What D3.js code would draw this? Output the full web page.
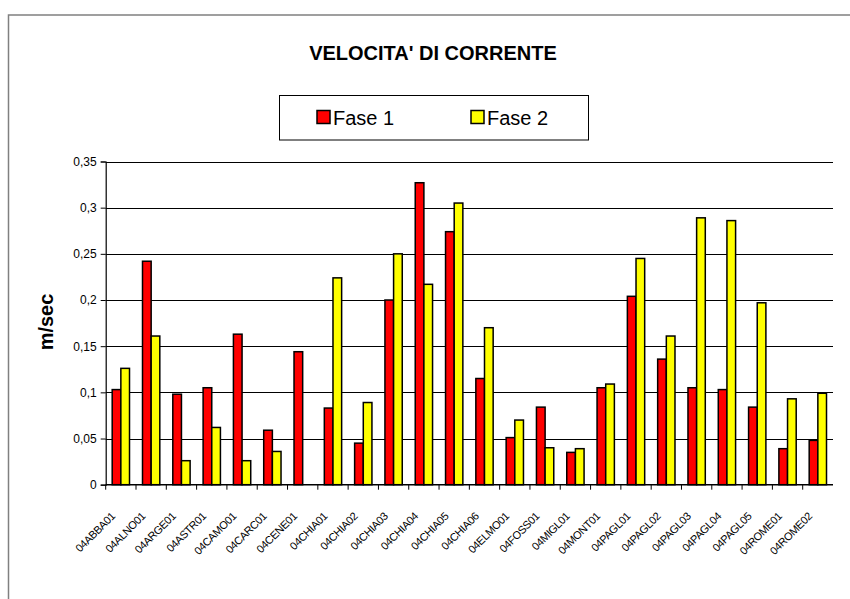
<!DOCTYPE html>
<html>
<head>
<meta charset="utf-8">
<script src="https://cdn.jsdelivr.net/npm/d3@7"></script>
<style>
  body { margin: 0; background: #fff; }
  svg { display: block; font-family: "Liberation Sans", Arial, sans-serif; }
</style>
</head>
<body>
<svg id="chart" width="850" height="599"></svg>
<script>
// stations
const categories = ["04ABBA01", "04ALNO01", "04ARGE01", "04ASTR01", "04CAMO01", "04CARC01",
  "04CENE01", "04CHIA01", "04CHIA02", "04CHIA03", "04CHIA04", "04CHIA05", "04CHIA06",
  "04ELMO01", "04FOSS01", "04MIGL01", "04MONT01", "04PAGL01", "04PAGL02", "04PAGL03",
  "04PAGL04", "04PAGL05", "04ROME01", "04ROME02"];

const fase1 = [0.103, 0.242, 0.098, 0.105, 0.163, 0.059, 0.144, 0.083, 0.045, 0.200, 0.327, 0.274,
  0.115, 0.051, 0.084, 0.035, 0.105, 0.204, 0.136, 0.105, 0.103, 0.084, 0.039, 0.048];
const fase2 = [0.126, 0.161, 0.026, 0.062, 0.026, 0.036, 0, 0.224, 0.089, 0.250, 0.217, 0.305,
  0.170, 0.070, 0.040, 0.039, 0.109, 0.245, 0.161, 0.289, 0.286, 0.197, 0.093, 0.099];

const seriesNames = ["Fase 1", "Fase 2"];
const seriesColors = ["#ff0000", "#ffff00"];
const yTicks = [0, 0.05, 0.1, 0.15, 0.2, 0.25, 0.3, 0.35];

const svg = d3.select("#chart");

// outer chart frame (clipped at right/bottom like the screenshot)
svg.append("rect")
  .attr("x", 8.5).attr("y", 15)
  .attr("width", 900).attr("height", 700)
  .attr("fill", "none")
  .attr("stroke", "#808080")
  .attr("stroke-width", 1.5);

const x = d3.scaleBand()
  .domain(categories)
  .range([105.7, 833])
  .paddingInner(0).paddingOuter(0);

const x1 = d3.scaleBand()
  .domain(seriesNames)
  .range([0, x.bandwidth()])
  .paddingInner(0)
  .paddingOuter(0.75);

const y = d3.scaleLinear()
  .domain([0, 0.35])
  .range([484.7, 161.5]);

const fmt = d => String(d).replace(".", ",");

// gridlines
svg.append("g")
  .selectAll("line")
  .data(yTicks.filter(d => d > 0))
  .join("line")
  .attr("x1", 105.7).attr("x2", 833)
  .attr("y1", d => Math.round(y(d)) + 0.5)
  .attr("y2", d => Math.round(y(d)) + 0.5)
  .attr("stroke", "#000")
  .attr("stroke-width", 1);

// bars
const rows = categories.map((c, i) => ({ cat: c, vals: [fase1[i], fase2[i]] }));

svg.append("g")
  .selectAll("g")
  .data(rows)
  .join("g")
  .attr("transform", d => `translate(${x(d.cat)},0)`)
  .selectAll("rect")
  .data(d => d.vals.map((v, j) => ({ name: seriesNames[j], v: v, j: j })).filter(e => e.v > 0))
  .join("rect")
  .attr("x", d => x1(d.name))
  .attr("y", d => y(d.v))
  .attr("width", x1.bandwidth())
  .attr("height", d => y(0) - y(d.v))
  .attr("fill", d => seriesColors[d.j])
  .attr("stroke", "#000")
  .attr("stroke-width", 1.5);

// y axis
const yAxis = d3.axisLeft(y)
  .tickValues(yTicks)
  .tickFormat(fmt)
  .tickSize(5)
  .tickPadding(4);

const gy = svg.append("g")
  .attr("transform", "translate(105.7,0)")
  .call(yAxis);
gy.select(".domain").attr("stroke", "#000").attr("stroke-width", 1.2);
gy.selectAll(".tick line").attr("stroke", "#000");
gy.selectAll(".tick text")
  .attr("font-family", "Liberation Sans, Arial, sans-serif")
  .attr("font-size", 12)
  .attr("fill", "#000");

// x axis: ticks at band boundaries
svg.append("line")
  .attr("x1", 105.7).attr("x2", 833)
  .attr("y1", y(0)).attr("y2", y(0))
  .attr("stroke", "#000").attr("stroke-width", 1.5);

svg.append("g")
  .selectAll("line")
  .data(categories)
  .join("line")
  .attr("x1", d => x(d)).attr("x2", d => x(d))
  .attr("y1", y(0)).attr("y2", y(0) + 5)
  .attr("stroke", "#000");

svg.append("g")
  .selectAll("text")
  .data(categories)
  .join("text")
  .attr("transform", d => `translate(${x(d) + x.bandwidth() / 2 - 5},517) rotate(-45)`)
  .attr("text-anchor", "end")
  .attr("font-size", 11)
  .attr("letter-spacing", -0.4)
  .attr("fill", "#000")
  .text(d => d);

// title
svg.append("text")
  .attr("x", 433).attr("y", 60)
  .attr("text-anchor", "middle")
  .attr("font-size", 20)
  .attr("font-weight", "bold")
  .text("VELOCITA' DI CORRENTE");

// y label
svg.append("text")
  .attr("transform", "translate(53,322) rotate(-90)")
  .attr("text-anchor", "middle")
  .attr("font-size", 20)
  .attr("font-weight", "bold")
  .text("m/sec");

// legend
const legend = svg.append("g");
legend.append("rect")
  .attr("x", 279.5).attr("y", 95.5)
  .attr("width", 309).attr("height", 44.5)
  .attr("fill", "#fff")
  .attr("stroke", "#000");

const legX = [317, 471];
seriesNames.forEach((name, i) => {
  legend.append("rect")
    .attr("x", legX[i]).attr("y", 110.5)
    .attr("width", 13).attr("height", 13)
    .attr("fill", seriesColors[i])
    .attr("stroke", "#000")
    .attr("stroke-width", 1.5);
  legend.append("text")
    .attr("x", legX[i] + 16).attr("y", 125)
    .attr("font-size", 20)
    .text(name);
});
</script>
</body>
</html>
